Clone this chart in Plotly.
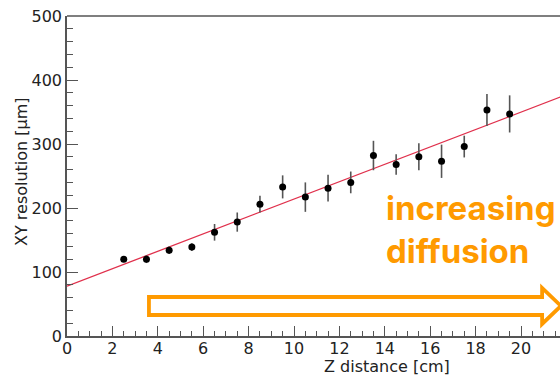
import plotly.graph_objects as go

# Data
z_cm = [2.5, 3.5, 4.5, 5.5, 6.5, 7.5, 8.5, 9.5, 10.5, 11.5, 12.5, 13.5, 14.5, 15.5, 16.5, 17.5, 18.5, 19.5]
xy_res = [120, 120, 134, 139, 162, 178, 206, 233, 217, 231, 240, 282, 268, 280, 273, 296, 353, 347]
xy_err = [3, 6, 6, 6, 13, 15, 13, 18, 23, 21, 17, 23, 16, 21, 26, 17, 25, 29]

fit_x = [0, 22]
fit_y = [78, 377]

x_ticks = [0, 2, 4, 6, 8, 10, 12, 14, 16, 18, 20]
y_ticks = [0, 100, 200, 300, 400, 500]

# arrow outline (data coordinates)
arrow_x = [3.61, 20.93, 20.93, 21.76, 20.93, 20.93, 3.61]
arrow_y = [60.9, 60.9, 75.0, 46.9, 18.8, 32.8, 32.8]

ORANGE = "#FF9A00"
AXIS = "#555555"
TXT = "#222222"

W, H = 560, 375
L, T, B = 67, 16, 39
pw = W - L
ph = H - T - B

fig = go.Figure()
fig.add_trace(go.Scatter(x=fit_x, y=fit_y, mode="lines",
                         line=dict(color="#e0304c", width=1.3), hoverinfo="skip"))
fig.add_trace(go.Scatter(x=z_cm, y=xy_res, mode="markers",
                         marker=dict(color="black", size=7),
                         error_y=dict(type="data", array=xy_err, visible=True,
                                      color="#555555", thickness=1.6, width=0)))

path = "M " + " L ".join(f"{a},{b}" for a, b in zip(arrow_x, arrow_y)) + " Z"
fig.add_shape(type="path", path=path, xref="x", yref="y",
              line=dict(color=ORANGE, width=3.8), fillcolor="rgba(0,0,0,0)")

fig.add_annotation(x=13.95, y=167, xref="x", yref="y", xanchor="left", yanchor="middle",
                   text="<b>increasing<br>diffusion</b>", showarrow=False, align="left",
                   font=dict(family="Inter", size=33, color=ORANGE))

# axis titles placed where the reference shows them
fig.add_annotation(x=(387 - L) / pw, y=(336 - 366) / ph, xref="paper", yref="paper",
                   xanchor="center", yanchor="middle", showarrow=False,
                   text="Z distance [cm]", font=dict(family="DejaVu Sans", size=16, color=TXT))
fig.add_annotation(x=(21 - L) / pw, y=(336 - 172) / ph, xref="paper", yref="paper",
                   xanchor="center", yanchor="middle", showarrow=False, textangle=-90,
                   text="XY resolution [μm]", font=dict(family="DejaVu Sans", size=16, color=TXT))

fig.update_layout(
    width=W, height=H,
    margin=dict(l=L, r=0, t=T, b=B, pad=0, autoexpand=False),
    paper_bgcolor="white", plot_bgcolor="white",
    showlegend=False,
    font=dict(family="DejaVu Sans", size=16, color=TXT),
)
fig.update_xaxes(range=[0, pw / 22.7], tickvals=x_ticks, ticks="inside", ticklen=10,
                 tickcolor=AXIS, tickwidth=1.3, showgrid=False, zeroline=False,
                 showline=True, linecolor=AXIS, linewidth=1.5, mirror=False, automargin=False,
                 ticklabelstandoff=-3,
                 minor=dict(dtick=0.5, ticks="inside", ticklen=5, tickcolor=AXIS, tickwidth=1.1),
                 tickfont=dict(family="DejaVu Sans", size=16, color=TXT))
fig.update_yaxes(range=[0, 500], tickvals=y_ticks, ticks="inside", ticklen=11,
                 tickcolor=AXIS, tickwidth=1.3, showgrid=False, zeroline=False,
                 showline=True, linecolor=AXIS, linewidth=1.5, automargin=False,
                 minor=dict(dtick=20, ticks="inside", ticklen=6, tickcolor=AXIS, tickwidth=1.1),
                 tickfont=dict(family="DejaVu Sans", size=16, color=TXT))
# top spine only
fig.add_shape(type="line", xref="paper", yref="paper", x0=0, x1=1, y0=1, y1=1,
              line=dict(color=AXIS, width=1.5))

fig.write_html("out.html", config={"displayModeBar": False},
               post_script="document.body.style.margin='0';document.body.style.overflow='hidden';")
